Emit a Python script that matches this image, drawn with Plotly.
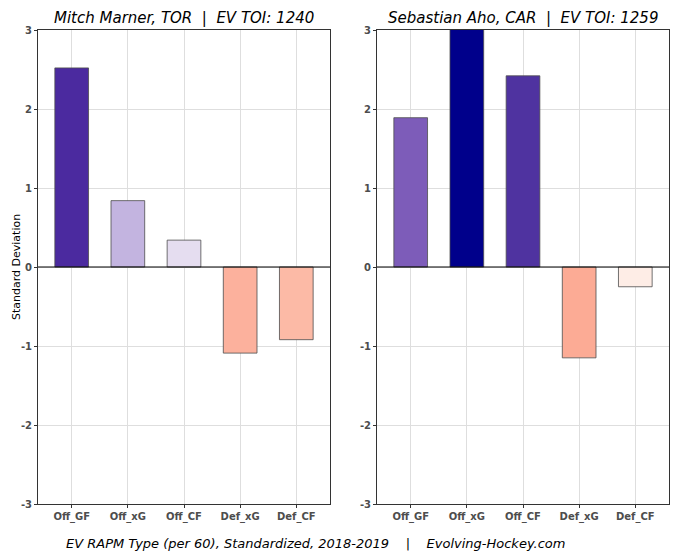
import plotly.graph_objects as go

categories = ["Off_GF", "Off_xG", "Off_CF", "Def_xG", "Def_CF"]
marner_vals = [2.52, 0.84, 0.34, -1.09, -0.92]
aho_vals = [1.89, 3.05, 2.42, -1.15, -0.25]
marner_colors = ["#4b2a9f", "#c3b4e0", "#e5ddf0", "#fcb19d", "#fcbaa6"]
aho_colors = ["#7d5cb9", "#00008b", "#4f33a0", "#fcab95", "#feede6"]
titles = ["Mitch Marner, TOR  |  EV TOI: 1240", "Sebastian Aho, CAR  |  EV TOI: 1259"]
caption = "EV RAPM Type (per 60), Standardized, 2018-2019    |    Evolving-Hockey.com"
y_ticks = [-3, -2, -1, 0, 1, 2, 3]

H, W = 555, 678
fig = go.Figure()
for i, (vals, cols) in enumerate([(marner_vals, marner_colors), (aho_vals, aho_colors)]):
    suffix = "" if i == 0 else "2"
    fig.add_trace(go.Bar(
        x=categories, y=vals, width=0.6,
        marker=dict(color=cols, line=dict(color="#4d4d4d", width=0.8)),
        xaxis="x" + suffix, yaxis="y" + suffix, showlegend=False, hoverinfo="skip",
    ))

fdom = lambda a, b: [a / W, b / W]
ydom = [(H - 504) / H, (H - 30) / H]
tickfont = dict(family="DejaVu Sans", size=10, color="#4d4d4d", weight="bold")
axcommon = dict(showline=True, linecolor="#333333", linewidth=1, mirror=True,
                showgrid=True, gridcolor="#dedede", gridwidth=1,
                tickfont=tickfont, zeroline=False, automargin=False,
                ticks="outside", ticklen=3, tickcolor="#333333")
xcommon = dict(axcommon, range=[-0.6, 4.6])
ycommon = dict(axcommon, range=[-3, 3], tickvals=y_ticks, ticktext=[str(t) for t in y_ticks])

fig.update_layout(
    width=W, height=H, margin=dict(l=0, r=0, t=0, b=0, pad=0, autoexpand=False),
    plot_bgcolor="white", paper_bgcolor="white",
    xaxis=dict(xcommon, domain=fdom(38, 330), anchor="y"),
    yaxis=dict(ycommon, domain=ydom, anchor="x"),
    xaxis2=dict(xcommon, domain=fdom(377, 669), anchor="y2"),
    yaxis2=dict(ycommon, domain=ydom, anchor="x2"),
    shapes=[
        dict(type="line", xref="x domain", yref="y", x0=0, x1=1, y0=0, y1=0,
             line=dict(color="black", width=1)),
        dict(type="line", xref="x2 domain", yref="y2", x0=0, x1=1, y0=0, y1=0,
             line=dict(color="black", width=1)),
    ],
    annotations=[
        dict(text=titles[0], x=(38 + 330) / 2 / W, y=1 - 18 / H, xref="paper", yref="paper",
             showarrow=False, font=dict(family="DejaVu Sans", size=15, color="black", style="italic"),
             xanchor="center", yanchor="middle"),
        dict(text=titles[1], x=(377 + 669) / 2 / W, y=1 - 18 / H, xref="paper", yref="paper",
             showarrow=False, font=dict(family="DejaVu Sans", size=15, color="black", style="italic"),
             xanchor="center", yanchor="middle"),
        dict(text=caption, x=315 / W, y=1 - 543 / H, xref="paper", yref="paper",
             showarrow=False, font=dict(family="DejaVu Sans", size=13, color="black", style="italic"),
             xanchor="center", yanchor="middle"),
        dict(text="Standard Deviation", x=16 / W, y=1 - 267 / H, xref="paper", yref="paper",
             showarrow=False, textangle=-90, font=dict(family="DejaVu Sans", size=11, color="black"),
             xanchor="center", yanchor="middle"),
    ],
)
fig.write_html("out.html", config={"displayModeBar": False},
               post_script="document.body.style.margin='0';document.body.style.padding='0';")
